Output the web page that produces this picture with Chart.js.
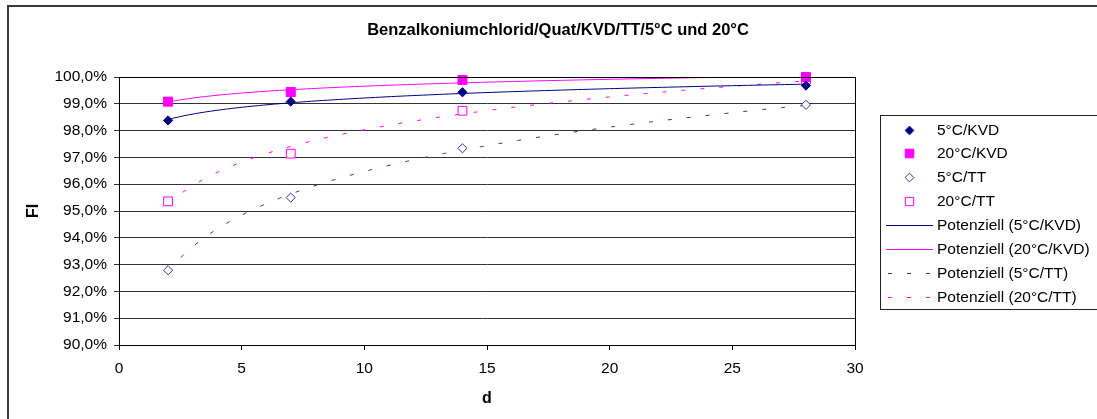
<!DOCTYPE html>
<html>
<head>
<meta charset="utf-8">
<title>Benzalkoniumchlorid/Quat/KVD/TT/5°C und 20°C</title>
<script src="https://cdn.jsdelivr.net/npm/chart.js@4.4.1/dist/chart.umd.min.js"></script>
<style>
  body { margin: 0; background: #fff; }
  canvas { display: block; }
</style>
</head>
<body>
<canvas id="chart" width="1097" height="419"></canvas>
<script>
const TITLE = 'Benzalkoniumchlorid/Quat/KVD/TT/5°C und 20°C';
const X_TITLE = 'd';
const Y_TITLE = 'FI';

// days of exposure
const days = [2, 7, 14, 28];

// FI in percent
const kvd5 = [98.38, 99.08, 99.43, 99.68];
const kvd20 = [99.08, 99.44, 99.89, 100.0];
const tt5 = [92.79, 95.50, 97.34, 98.96];
const tt20 = [95.36, 97.14, 98.74, 99.90];

const xTicks = [0, 5, 10, 15, 20, 25, 30];
const yTicks = [90, 91, 92, 93, 94, 95, 96, 97, 98, 99, 100];

const NAVY = '#000080';
const BLUE = '#333399';
const MAGENTA = '#FF00FF';
const FONT = "'Liberation Sans', Arial, sans-serif";

// power regression y = a * x^b, as Excel's "Potenziell" trendline
function powerTrend(xs, ys) {
  const lx = xs.map(Math.log), ly = ys.map(Math.log);
  const n = xs.length;
  const mx = lx.reduce((s, v) => s + v, 0) / n;
  const my = ly.reduce((s, v) => s + v, 0) / n;
  let sxy = 0, sxx = 0;
  for (let i = 0; i < n; i++) {
    sxy += (lx[i] - mx) * (ly[i] - my);
    sxx += (lx[i] - mx) * (lx[i] - mx);
  }
  const b = sxy / sxx;
  const a = Math.exp(my - b * mx);
  const x0 = Math.min(...xs), x1 = Math.max(...xs);
  const steps = 120;
  const pts = [];
  for (let i = 0; i <= steps; i++) {
    const x = x0 + (x1 - x0) * i / steps;
    pts.push({ x, y: a * Math.pow(x, b) });
  }
  return pts;
}

const toPoints = ys => days.map((d, i) => ({ x: d, y: ys[i] }));

function pointSet(label, ys, style, radius, fill, border) {
  return {
    label, data: toPoints(ys), showLine: false, clip: false,
    pointStyle: style, pointRadius: radius, pointHoverRadius: radius,
    pointBackgroundColor: fill, pointBorderColor: border, pointBorderWidth: 1
  };
}

function trendSet(label, ys, color, dash) {
  return {
    label, data: powerTrend(days, ys), showLine: true, pointRadius: 0,
    borderColor: color, borderWidth: 1, borderDash: dash, tension: 0, fill: false
  };
}

const DASH = [4, 15];

const datasets = [
  pointSet('5°C/KVD', kvd5, 'rectRot', 4.6, NAVY, NAVY),
  pointSet('20°C/KVD', kvd20, 'rect', 6.4, MAGENTA, MAGENTA),
  pointSet('5°C/TT', tt5, 'rectRot', 4.6, '#fff', BLUE),
  pointSet('20°C/TT', tt20, 'rect', 6.2, '#fff', MAGENTA),
  trendSet('Potenziell (5°C/KVD)', kvd5, NAVY, []),
  trendSet('Potenziell (20°C/KVD)', kvd20, MAGENTA, []),
  trendSet('Potenziell (5°C/TT)', tt5, BLUE, DASH),
  trendSet('Potenziell (20°C/TT)', tt20, MAGENTA, DASH)
];

// frame, plot border, title and the boxed legend on the right
const decor = {
  id: 'decor',
  afterDraw(chart) {
    const ctx = chart.ctx;
    const area = chart.chartArea;
    ctx.save();

    ctx.strokeStyle = '#3a3a3a';
    ctx.lineWidth = 2;
    ctx.beginPath();
    ctx.moveTo(8, chart.height + 2);
    ctx.lineTo(8, 6);
    ctx.lineTo(chart.width + 2, 6);
    ctx.stroke();

    ctx.strokeStyle = '#000';
    ctx.lineWidth = 1;
    ctx.strokeRect(Math.round(area.left) + 0.5, Math.round(area.top) + 0.5,
      Math.round(area.right - area.left), Math.round(area.bottom - area.top));

    ctx.fillStyle = '#000';
    ctx.font = 'bold 16.5px ' + FONT;
    ctx.textAlign = 'center';
    ctx.textBaseline = 'middle';
    ctx.fillText(TITLE, 558, 30);

    ctx.strokeStyle = '#222';
    ctx.strokeRect(880.5, 115.5, 240, 194);

    ctx.font = '15.5px ' + FONT;
    ctx.textAlign = 'left';
    chart.data.datasets.forEach((ds, i) => {
      const y = Math.round(129.5 + i * 23.9);
      if (ds.showLine) {
        ctx.strokeStyle = ds.borderColor;
        ctx.lineWidth = 1;
        ctx.setLineDash(ds.borderDash.length ? DASH : []);
        ctx.lineDashOffset = ds.borderDash.length ? -2 : 0;
        ctx.beginPath();
        ctx.moveTo(886, y + 0.5);
        ctx.lineTo(933, y + 0.5);
        ctx.stroke();
        ctx.setLineDash([]);
      } else {
        ctx.fillStyle = ds.pointBackgroundColor;
        ctx.strokeStyle = ds.pointBorderColor;
        Chart.helpers.drawPoint(ctx, {
          pointStyle: ds.pointStyle, radius: ds.pointRadius * 0.95,
          rotation: 0, borderWidth: 1
        }, 909.5, y + 0.5);
      }
      ctx.fillStyle = '#000';
      ctx.fillText(ds.label, 937, y + 1);
    });

    ctx.restore();
  }
};

new Chart(document.getElementById('chart'), {
  type: 'scatter',
  data: { datasets },
  plugins: [decor],
  options: {
    responsive: false,
    animation: false,
    layout: { padding: { left: 0, top: 77, right: 242, bottom: 0 } },
    plugins: { legend: { display: false }, tooltip: { enabled: false } },
    scales: {
      x: {
        type: 'linear', min: xTicks[0], max: xTicks[xTicks.length - 1],
        afterFit: s => { s.height = 74; },
        afterBuildTicks: s => { s.ticks = xTicks.map(v => ({ value: v })); },
        grid: { drawOnChartArea: false, drawTicks: true, tickLength: 5, color: '#000' },
        border: { color: '#000', width: 1 },
        ticks: { color: '#000', padding: 9, font: { family: FONT, size: 15.5 } },
        title: {
          display: true, text: X_TITLE, color: '#000',
          font: { family: FONT, size: 16, weight: 'bold' },
          padding: { top: 0, bottom: 11 }
        }
      },
      y: {
        type: 'linear', min: yTicks[0], max: yTicks[yTicks.length - 1],
        afterFit: s => { s.width = 119; },
        afterBuildTicks: s => { s.ticks = yTicks.map(v => ({ value: v })); },
        grid: { color: '#333', lineWidth: 1, drawTicks: true, tickLength: 5 },
        border: { color: '#000', width: 1 },
        ticks: {
          color: '#000', padding: 7, font: { family: FONT, size: 15.5 },
          callback: v => v.toFixed(1).replace('.', ',') + '%'
        },
        title: {
          display: true, text: Y_TITLE, color: '#000',
          font: { family: FONT, size: 16, weight: 'bold' },
          padding: { top: 24, bottom: 0 }
        }
      }
    }
  }
});
</script>
</body>
</html>
